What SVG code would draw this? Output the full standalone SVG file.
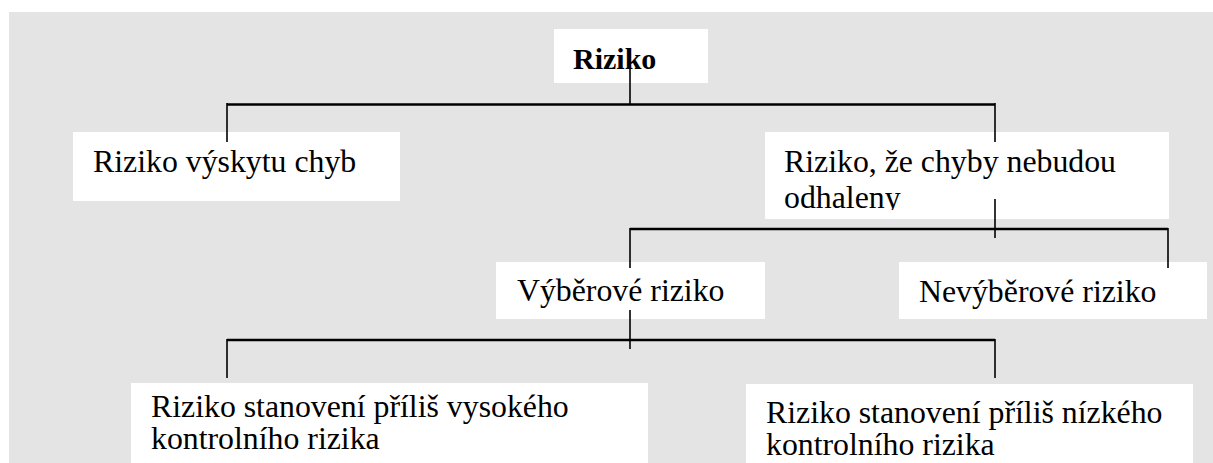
<svg xmlns="http://www.w3.org/2000/svg" width="1213" height="463" viewBox="0 0 1213 463">
<style>
.bg{fill:#e4e4e4}
.box{fill:#ffffff;stroke:none}
.t{font-family:"Liberation Serif","Times New Roman",serif;font-size:31.8px;fill:#000000}
.title{font-size:30px;font-weight:bold}
.v{stroke:#000000;stroke-width:1.6;fill:none}
.h{stroke:#000000;stroke-width:2.4;fill:none}
</style>
<defs>
<clipPath id="clipB"><rect x="765" y="132" width="404" height="78"/></clipPath>
</defs>
<rect class="bg" x="9" y="12" width="1204" height="451"/>
<g id="node-riziko">
<rect class="box" x="554" y="29" width="154" height="54"/>
<text class="t title" x="573" y="69">Riziko</text>
</g>
<g id="node-vyskyt">
<rect class="box" x="73" y="132" width="327" height="69"/>
<text class="t" x="93" y="172">Riziko výskytu chyb</text>
</g>
<g id="node-neodhaleny">
<rect class="box" x="765" y="132" width="404" height="87"/>
<g clip-path="url(#clipB)">
<text class="t" x="784" y="172">Riziko, že chyby nebudou</text>
<text class="t" x="784" y="207.5">odhaleny</text>
</g>
</g>
<g id="node-vyberove">
<rect class="box" x="496" y="262" width="269" height="57"/>
<text class="t" x="517" y="301">Výběrové riziko</text>
</g>
<g id="node-nevyberove">
<rect class="box" x="899" y="262" width="308" height="57"/>
<text class="t" x="919" y="302">Nevýběrové riziko</text>
</g>
<g id="node-vysoke">
<rect class="box" x="131" y="383" width="517" height="80"/>
<text class="t" x="151" y="417">Riziko stanovení příliš vysokého</text>
<text class="t" x="151" y="449">kontrolního rizika</text>
</g>
<g id="node-nizke">
<rect class="box" x="746" y="384" width="447" height="79"/>
<text class="t" x="766" y="423">Riziko stanovení příliš nízkého</text>
<text class="t" x="766" y="455">kontrolního rizika</text>
</g>
<g id="connectors">
<line class="v" x1="630" y1="68" x2="630" y2="105"/>
<line class="v" x1="227" y1="103" x2="227" y2="142"/>
<line class="v" x1="995" y1="103" x2="995" y2="142"/>
<line class="v" x1="995" y1="199" x2="995" y2="238"/>
<line class="v" x1="630" y1="228" x2="630" y2="268"/>
<line class="v" x1="1168" y1="228" x2="1168" y2="268"/>
<line class="v" x1="630" y1="310" x2="630" y2="349"/>
<line class="v" x1="227" y1="339" x2="227" y2="378"/>
<line class="v" x1="995" y1="339" x2="995" y2="378"/>
<line class="h" x1="227" y1="104.5" x2="995" y2="104.5"/>
<line class="h" x1="630" y1="229" x2="1168" y2="229"/>
<line class="h" x1="227" y1="340" x2="995" y2="340"/>
</g>
</svg>
